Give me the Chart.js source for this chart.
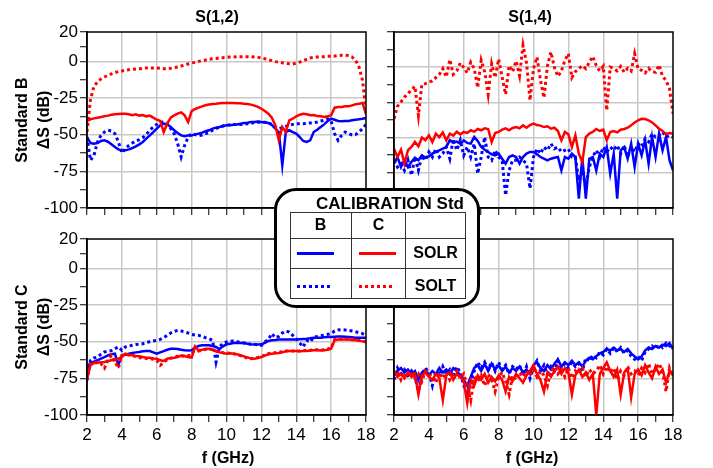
<!DOCTYPE html>
<html><head><meta charset="utf-8">
<script src="https://cdn.jsdelivr.net/npm/chart.js@4.4.1/dist/chart.umd.min.js"></script>
<style>
html,body{margin:0;padding:0;background:#fff;}
#wrap{position:relative;width:713px;height:468px;overflow:hidden;font-family:"Liberation Sans",Arial,sans-serif;color:#000;background:#fff;}
.cv{position:absolute;}
.t{position:absolute;white-space:nowrap;text-align:center;font-weight:bold;font-size:16px;line-height:20px;height:20px;}
.r{transform:rotate(-90deg);width:200px;}
.hl{position:absolute;height:1px;background:#333;}
.vl{position:absolute;width:1px;background:#333;}
.sw{position:absolute;height:3px;}
</style></head><body>
<div id="wrap">
<canvas id="cTL" class="cv" width="380" height="225" style="left:0;top:0;width:380px;height:225px"></canvas>
<canvas id="cTR" class="cv" width="333" height="225" style="left:380px;top:0;width:333px;height:225px"></canvas>
<canvas id="cBL" class="cv" width="380" height="243" style="left:0;top:225px;width:380px;height:243px"></canvas>
<canvas id="cBR" class="cv" width="333" height="243" style="left:380px;top:225px;width:333px;height:243px"></canvas>

<div class="t" style="left:167px;top:7px;width:100px">S(1,2)</div>
<div class="t" style="left:480px;top:7px;width:100px">S(1,4)</div>
<div class="t r" style="left:-78px;top:110px">Standard B</div>
<div class="t r" style="left:-56px;top:110px">ΔS (dB)</div>
<div class="t r" style="left:-78px;top:317px">Standard C</div>
<div class="t r" style="left:-56px;top:317px">ΔS (dB)</div>
<div class="t" style="left:178px;top:448px;width:100px">f (GHz)</div>
<div class="t" style="left:482px;top:448px;width:100px">f (GHz)</div>

<div style="position:absolute;left:274px;top:188px;width:206px;height:120px;box-sizing:border-box;border:3px solid #000;border-radius:22px;background:#fff;"></div>
<div class="t" style="left:290px;top:194px;width:200px;font-size:17px">CALIBRATION Std</div>
<div class="hl" style="left:290px;top:212px;width:176px"></div>
<div class="hl" style="left:290px;top:238px;width:176px"></div>
<div class="hl" style="left:290px;top:268px;width:176px"></div>
<div class="hl" style="left:290px;top:298px;width:176px"></div>
<div class="vl" style="left:290px;top:212px;height:87px"></div>
<div class="vl" style="left:351px;top:212px;height:87px"></div>
<div class="vl" style="left:405px;top:212px;height:87px"></div>
<div class="vl" style="left:465px;top:212px;height:87px"></div>
<div class="t" style="left:300px;top:215px;width:41px">B</div>
<div class="t" style="left:358px;top:215px;width:41px">C</div>
<div class="t" style="left:405px;top:243px;width:61px">SOLR</div>
<div class="t" style="left:405px;top:276px;width:61px">SOLT</div>
<div class="sw" style="left:297px;top:252px;width:37px;background:#0000ff"></div>
<div class="sw" style="left:359px;top:252px;width:37px;background:#ff0000"></div>
<div class="sw" style="left:297px;top:285px;width:33px;background:repeating-linear-gradient(to right,#0000ff 0 3px,transparent 3px 6px)"></div>
<div class="sw" style="left:359px;top:285px;width:33px;background:repeating-linear-gradient(to right,#ff0000 0 3px,transparent 3px 6px)"></div>
</div>

<script>
// Frequency axis (GHz)
const F = [2,2.2,2.4,2.6,2.8,3,3.2,3.4,3.6,3.8,4,4.2,4.4,4.6,4.8,5,5.2,5.4,5.6,5.8,6,6.2,6.4,6.6,6.8,7,7.2,7.4,7.6,7.8,8,8.2,8.4,8.6,8.8,9,9.2,9.4,9.6,9.8,10,10.2,10.4,10.6,10.8,11,11.2,11.4,11.6,11.8,12,12.2,12.4,12.6,12.8,13,13.2,13.4,13.6,13.8,14,14.2,14.4,14.6,14.8,15,15.2,15.4,15.6,15.8,16,16.2,16.4,16.6,16.8,17,17.2,17.4,17.6,17.8,18];

const X_TICKS = [2,3,4,5,6,7,8,9,10,11,12,13,14,15,16,17,18];
const X_LABELS = [2,4,6,8,10,12,14,16,18];
const Y_TICKS_20 = [20,10,0,-12.5,-25,-37.5,-50,-62.5,-75,-87.5,-100];
const Y_TICKS_25 = [25,12.5,0,-12.5,-25,-37.5,-50,-62.5,-75,-87.5,-100];
const Y_LABELS = [20,0,-25,-50,-75,-100];
const Y_GRID = [0,-25,-50,-75];

// S(1,2), Standard B
const TL_B_SOLR = [-51.6,-55.7,-56.1,-55.7,-54.3, -53.9,-54.8,-56.6,-58.4,-60, -60.7,-60.7,-60,-59.1,-58, -56.6,-55,-52.7,-50.5,-48.2, -45.9,-43.6,-42.5,-43,-44.8, -47,-48.9,-50.5,-51.1,-50.5, -50.5,-49.8,-49.3,-48.6,-47.7, -47,-45.9,-45.2,-44.8,-44.1, -43.6,-43.6,-43.2,-43,-42.5, -42,-41.8,-41.4,-41.4,-41.1, -41.4,-41.6,-42,-43.4,-45.9, -48.2,-70.9,-48.2,-47,-48.2, -49.3,-51.6,-54.3,-55,-53.9, -48.2,-46.6,-44.8,-43,-40.7, -39.1,-39.8,-40.7,-40.9,-40.7, -40.7,-40.2,-39.8,-39.5,-39.1, -38.6];
const TL_B_SOLT = [-51.6,-67.5,-64.1,-55,-50.5, -48.2,-47,-47.5,-49.3,-55, -62.5,-59.5,-57.3,-55.7,-54.3, -53.4,-52,-49.8,-47,-44.8, -43,-41.6,-41.4,-42.5,-45.9, -49.3,-56.1,-65.2,-57.3,-51.6, -49.3,-50,-50.7,-50.2,-49.3, -48.6,-47,-45.9,-44.8,-44.1, -43.6,-43.2,-43,-43,-43, -43,-42.5,-42,-41.8,-41.6, -41.4,-41.6,-42,-43,-44.8, -45.9,-45.2,-44.3,-43.6,-43, -42.5,-42.5,-42.5,-42.3,-42, -42,-41.4,-40.7,-40.2,-39.1, -40.7,-49.3,-53.9,-50.5,-48.2, -49.3,-50.2,-50,-48.2,-45.9, -43];
const TL_C_SOLR = [-40.5,-39.5,-38.9,-38.4,-38, -37.5,-37,-36.4,-36.1,-35.9, -35.7,-35.7,-36.1,-36.8,-36.1, -37,-36.6,-37.5,-37,-38.4, -39.8,-40.7,-48.2,-42.5,-38.4, -36.8,-35.7,-34.8,-36.8,-41.4, -33.9,-32.5,-31.6,-30.7,-30, -29.5,-29.1,-28.9,-28.6,-28.4, -28.4,-28.4,-28.4,-28.6,-28.6, -28.9,-29.1,-29.5,-30.2,-31.1, -32.3,-33.9,-35.7,-38.4,-43.6, -53.9,-44.8,-48.2,-40.2,-39.1, -37.5,-36.4,-35.7,-36.1,-36.8, -36.6,-37.3,-37.5,-38,-37.5, -36.8,-31.6,-31.1,-31.1,-30.7, -30.7,-30,-29.3,-28.9,-28.4, -36];
const TL_C_SOLT = [-48,-26,-17,-14.1,-12, -10.7,-9.5,-8.6,-7.7,-7, -6.6,-6.1,-5.7,-5.5,-5.2, -5,-4.8,-4.5,-4.5,-4.5, -4.5,-4.8,-5,-5,-4.8, -4.3,-3.9,-3.2,-2.5,-1.8, -1.1,-0.7,0,0.5,0.9, 1.4,1.8,2,2.3,2.5, 2.7,3,3,3.2,3.2, 3.2,3.2,3.2,3,2.7, 2.3,1.8,1.1,0.5,-0.2, -0.5,-1,-1.4,-1.6,-1.8, -1.2,-0.5,0.5,1.4,2.3, 2.7,3,3.2,3.2,3.4, 3.4,3.6,3.9,4.1,4.1, 3.9,3,0.7,-3.9,-13, -33];

// S(1,4), Standard B
const TR_B_SOLR = [-68.5,-63.8,-70.9,-66.1,-70.9, -67.3,-64.3,-66.1,-62.6,-64.3, -63.3,-61.4,-60.2,-59,-57.9, -56.7,-51.9,-53.8,-52.9,-54.3, -51.9,-53.8,-54.3,-49.6,-52.4, -56.7,-58.6,-60.2,-61.9,-62.6, -61.4,-65,-68.5,-63.8,-62.6, -63.8,-68.5,-63.8,-61.4,-60.2, -60.2,-61.9,-63.8,-65,-66.1, -65,-64.3,-63.8,-73.3,-63.8, -65,-61.4,-63.8,-93.4,-63.8, -93.4,-65,-63.8,-73.3,-61.4, -63.8,-56.7,-75.6,-61.4,-93.4, -59,-56.7,-65,-54.3,-70.9, -54.3,-62.6,-51.9,-68.5,-49.6, -63.8,-47.2,-59,-49.6,-66.1, -73.3];
const TR_B_SOLT = [-66.1,-70.9,-68.5,-73.3,-66.1, -76.8,-63.8,-73.3,-62.6,-66.1, -60.2,-63.8,-57.9,-63.8,-61.4, -56.7,-65,-50.8,-59,-51.9, -62.6,-56.7,-63.8,-54.3,-75.6, -63.8,-49.6,-63.8,-66.1,-59, -63.8,-66.1,-91,-73.3,-66.1, -66.1,-63.8,-66.1,-68.5,-86.2, -63.8,-57.9,-61.4,-56.7,-59, -54.3,-57.9,-56.7,-60.2,-59, -57.9,-63.8,-63.8,-80.3,-73.3, -85.1,-70.9,-63.8,-59,-63.8, -56.7,-60.2,-56.7,-59,-55.5, -61.4,-55.5,-63.8,-56.7,-60.2, -54.3,-56.7,-50.8,-53.1,-47.2, -49.6,-48.4,-46,-49.6,-48.4, -49.6];
const TR_C_SOLR = [-57.9,-63.8,-58.6,-68.5,-59, -56.7,-53.1,-56.2,-50,-51.9, -48.4,-53.1,-47.2,-49.6,-46.3, -51.9,-47.2,-48.6,-45.8,-47.7, -46,-46.7,-44.8,-45.8,-43.9, -44.8,-43.4,-43.9,-53.1,-46.7, -46,-44.4,-43.4,-44.8,-43.2, -42.5,-43.4,-41.3,-43,-41.1, -40.1,-41.1,-41.5,-42.5,-42, -43.7,-43,-45.3,-51.9,-46, -47.7,-56.7,-48.4,-61.4,-67.3, -49.6,-47.2,-46,-43.9,-45.3, -44.4,-51.9,-46,-45.3,-46.3, -44.4,-43.9,-43,-41.3,-39.2, -37.7,-36.6,-36.8,-37.7,-39.2, -41.3,-43.7,-45.3,-47.7,-46.7, -47.2];
const TR_C_SOLT = [-36.6,-27.8,-24.7,-21.2,-18.8, -16,-13.6,-34.2,-12.2,-11.7, -10.5,-9.8,-7.4,-5.1,-1, -7,5.4,-5.1,-2.7,3, -0.3,-4.1,3.5,-1,-14.5, 4.9,-3.2,-19.3,2.5,-7.4, 5.8,-7,-19.3,1.1,-3.2, 4.4,-6,15.5,3,-23.5, -1,7.2,-9.3,-21.7,1.1, 10.8,-0.3,-6.5,-2.7,4.9, 9.6,-7.4,-3.2,-1,1.1, -1,3.5,7.7,1.1,-2.7, 0.6,-30.6,0.1,-0.8,-2.7, 0.6,-3.6,-0.8,-2.7,9.6, -1.3,-2.2,-4.1,-0.8,-3.2, -3.6,1.6,-6.5,-9.3,-15.3, -33];

// S(1,2), Standard C
const BL_B_SOLR = [-67.3,-64.5,-63.6,-62.7,-61.6, -60.5,-59.3,-58.6,-58.2,-66, -59.3,-58.9,-58.2,-57.7,-57.3, -57,-56.6,-56.4,-56.4,-57.3, -58.2,-57.3,-56.4,-55.5,-54.8, -54.8,-55,-55.5,-55.9,-56.1, -55.9,-54.1,-53,-52.5,-52.5, -52.5,-53,-53.6,-55,-53.2, -51.8,-51.4,-50.9,-50.9,-50.9, -50.9,-51.4,-51.8,-52,-52, -51.8,-50.9,-49.5,-49.1,-48.9, -48.6,-48.6,-48.6,-48.6,-48.6, -48.6,-48.4,-48.2,-48,-47.7, -47.3,-47.3,-47.3,-47,-46.8, -46.8,-46.6,-46.4,-46.4,-46.6, -46.8,-47,-47.3,-47.3,-47.3, -47.3];
const BL_B_SOLT = [-76.4,-62.7,-61.1,-60.5,-58.6, -57,-56.6,-56.1,-54.8,-53.6, -55.9,-53.6,-53,-52.5,-52, -51.8,-51.4,-50.5,-50,-49.5, -49.1,-48.4,-47.3,-45.7,-44.1, -43,-42.3,-42.7,-43.4,-44.1, -45,-45.5,-45.7,-46.4,-47.3, -48,-49.1,-63.9,-53.6,-51, -50.2,-49.8,-49.5,-50,-50.5, -50.9,-51.4,-51.8,-51.8,-52.3, -52.5,-50.2,-48.6,-44.5,-47.3, -46.4,-44.1,-42.7,-43.4,-45.7, -48,-50.9,-53.6,-49.1,-50.2, -46.8,-46.4,-45.9,-45.5,-45, -44.5,-42.7,-42,-41.8,-42, -42.3,-42.7,-43.2,-43.9,-44.5, -45.7];
const BL_C_SOLR = [-75.2,-66.1,-64.5,-64.3,-64.1, -63.9,-63.2,-62.7,-62.7,-61.6, -60.5,-58.2,-58.9,-59.3,-59.8, -60,-60.5,-60.9,-60.9,-61.4, -61.6,-62.7,-63.2,-61.6,-61.1, -60.9,-60.5,-59.5,-59.8,-60.5, -60.9,-53.6,-55.9,-55.5,-55, -54.8,-55.5,-56.6,-57.3,-57.7, -58.2,-57.9,-58.2,-58.6,-59.3, -60,-60.7,-61.4,-61.6,-61.1, -60.5,-59.5,-58.6,-58.2,-57.9, -57.7,-57.3,-56.6,-56.4,-56.4, -56.4,-56.6,-56.4,-56.4,-56.1, -55.9,-55.9,-56.1,-55.9,-55.5, -54.8,-49.1,-48.6,-48.6,-48.6, -48.6,-48.9,-49.1,-49.3,-49.8, -50.2];
const BL_C_SOLT = [-74.1,-65,-64.1,-64.5,-65, -68,-62.7,-59.3,-63.6,-68, -59.3,-58.9,-59.1,-59.5,-60.2, -60.9,-61.1,-61.4,-61.6,-62, -62.7,-66.1,-64.1,-62.3,-61.4, -60.5,-60,-60,-59.8,-59.5, -59.3,-53.6,-56.4,-55.9,-55.2, -54.8,-55.5,-56.4,-57,-57.5, -57.7,-57.9,-58.2,-58.9,-59.5, -60.5,-61.1,-61.6,-61.4,-60.7, -60,-59.1,-58.2,-57.7,-57.5, -57,-56.8,-56.4,-56.4,-56.4, -56.4,-56.4,-56.1,-56.1,-55.9, -55.5,-55.5,-55.7,-55.5,-55, -54.3,-48.6,-48.2,-48.2,-48.2, -48.2,-48.4,-48.6,-49.1,-49.5, -50.2];

// S(1,4), Standard C
const BR_B_SOLR = [-73,-70,-68,-71,-69, -72,-70,-76,-71,-69, -73,-70,-72,-68,-71, -69,-72,-68,-70,-73, -76,-80,-74,-68,-66, -70,-65,-70,-65,-69, -66,-70,-67,-71,-68, -70,-67,-71,-69,-72, -66,-64,-68,-70,-66, -69,-65,-62,-67,-64, -66,-63,-66,-64,-67, -63,-61,-62,-60,-58, -57,-55,-56,-54,-56, -55,-57,-55,-58,-60, -62,-60,-56,-54,-55, -53,-54,-52,-53,-51, -55];
const BR_B_SOLT = [-76,-68,-72,-69,-73, -70,-74,-84,-72,-68, -71,-80,-70,-73,-67, -72,-69,-74,-67,-71, -80,-85,-78,-70,-64, -68,-64,-69,-64,-70, -64,-69,-66,-72,-67, -69,-66,-73,-67,-75, -67,-63,-70,-66,-72, -67,-70,-63,-68,-65, -68,-64,-67,-65,-70, -61,-63,-59,-61,-57, -59,-55,-58,-54,-57, -54,-58,-56,-60,-62, -60,-63,-57,-55,-53, -55,-52,-54,-51,-53, -52];
const BR_C_SOLR = [-70,-74,-72,-75,-71, -74,-72,-86,-73,-71, -74,-76,-72,-75,-90, -73,-71,-76,-72,-74, -77,-92,-76,-80,-73, -76,-72,-78,-74,-77, -73,-76,-84,-74,-77, -72,-75,-78,-73,-70, -66,-72,-76,-84,-71, -74,-70,-67,-72,-68, -71,-86,-73,-69,-74, -71,-76,-72,-100,-72, -68,-64,-70,-74,-69, -86,-71,-68,-88,-72, -69,-73,-66,-71,-75, -67,-72,-69,-78,-70, -73];
const BR_C_SOLT = [-72,-70,-76,-71,-74, -70,-75,-72,-77,-70, -72,-74,-78,-71,-75, -71,-76,-72,-70,-75, -72,-80,-90,-74,-77, -73,-80,-72,-76,-84, -74,-71,-77,-86,-73, -76,-71,-74,-70,-73, -69,-74,-70,-73,-80, -70,-67,-72,-69,-74, -68,-75,-70,-72,-68, -74,-69,-72,-70,-66, -72,-67,-71,-68,-76, -70,-73,-67,-72,-70, -73,-68,-71,-65,-72, -69,-65,-70,-84,-68, -74];

Chart.defaults.font.family = '"Liberation Sans", Arial, sans-serif';
Chart.defaults.color = '#000';
const BLUE = '#0000ff', RED = '#ff0000', GRID = '#c8c8c8', NONE = 'rgba(0,0,0,0)';

const framePlugin = {
  id: 'frame',
  afterDraw(chart) {
    const a = chart.chartArea, ctx = chart.ctx;
    ctx.save();
    ctx.strokeStyle = '#000';
    ctx.lineWidth = 1.5;
    ctx.strokeRect(a.left, a.top, a.right - a.left, a.bottom - a.top);
    ctx.restore();
  }
};

function pts(vals) { return F.map((f, i) => ({ x: f, y: vals[i] })); }
function ds(vals, color, dotted) {
  return { data: pts(vals), borderColor: color, borderWidth: dotted ? 3 : 2.5,
           borderDash: dotted ? [3, 3] : [], pointRadius: 0, tension: 0, fill: false };
}

function makeChart(id, s, cfg) {
  const datasets = [ds(s[3], RED, true), ds(s[2], RED, false), ds(s[1], BLUE, true), ds(s[0], BLUE, false)];
  return new Chart(document.getElementById(id), {
    type: 'line',
    data: { datasets },
    options: {
      responsive: false, animation: false, events: [],
      layout: { padding: { left: 0, right: cfg.padR, top: cfg.padT, bottom: 0 } },
      plugins: { legend: { display: false }, tooltip: { enabled: false }, title: { display: false } },
      scales: {
        x: {
          type: 'linear', min: 2, max: 18,
          afterBuildTicks: (sc) => { sc.ticks = X_TICKS.map(v => ({ value: v })); },
          afterFit: (sc) => { sc.height = cfg.xH; },
          grid: { color: (c) => (c.tick && c.tick.value % 2 === 0 && c.tick.value > 2 && c.tick.value < 18) ? GRID : NONE,
                  lineWidth: 1.5, tickColor: '#000', tickLength: 7, tickWidth: 1, drawTicks: true },
          border: { display: true, color: '#000', width: 1.5 },
          ticks: { display: cfg.xLabels, padding: 3, font: { size: 17 }, color: '#000', maxRotation: 0, autoSkip: false,
                   callback: (v) => X_LABELS.includes(v) ? String(v) : '' }
        },
        y: {
          type: 'linear', min: -100, max: cfg.yMax,
          afterBuildTicks: (sc) => { sc.ticks = cfg.yTicks.map(v => ({ value: v })); },
          afterFit: (sc) => { sc.width = cfg.yW; },
          grid: { color: (c) => (c.tick && Y_GRID.includes(c.tick.value)) ? GRID : NONE,
                  lineWidth: 1.5, tickColor: '#000', tickLength: 7, tickWidth: 1, drawTicks: true },
          border: { display: true, color: '#000', width: 1.5 },
          ticks: { display: cfg.yLabels, padding: 2, font: { size: 17 }, color: '#000', autoSkip: false,
                   callback: (v) => Y_LABELS.includes(v) ? String(v) : '' }
        }
      }
    },
    plugins: [framePlugin]
  });
}

makeChart('cTL', [TL_B_SOLR, TL_B_SOLT, TL_C_SOLR, TL_C_SOLT],
  { padR: 14, padT: 32, xH: 17, yW: 87, yMax: 20, yTicks: Y_TICKS_20, xLabels: false, yLabels: true });
makeChart('cTR', [TR_B_SOLR, TR_B_SOLT, TR_C_SOLR, TR_C_SOLT],
  { padR: 40, padT: 32, xH: 17, yW: 14, yMax: 25, yTicks: Y_TICKS_25, xLabels: false, yLabels: false });
makeChart('cBL', [BL_B_SOLR, BL_B_SOLT, BL_C_SOLR, BL_C_SOLT],
  { padR: 14, padT: 14, xH: 53, yW: 87, yMax: 20, yTicks: Y_TICKS_20, xLabels: true, yLabels: true });
makeChart('cBR', [BR_B_SOLR, BR_B_SOLT, BR_C_SOLR, BR_C_SOLT],
  { padR: 40, padT: 14, xH: 53, yW: 14, yMax: 20, yTicks: Y_TICKS_20, xLabels: true, yLabels: false });
</script>
</body></html>
